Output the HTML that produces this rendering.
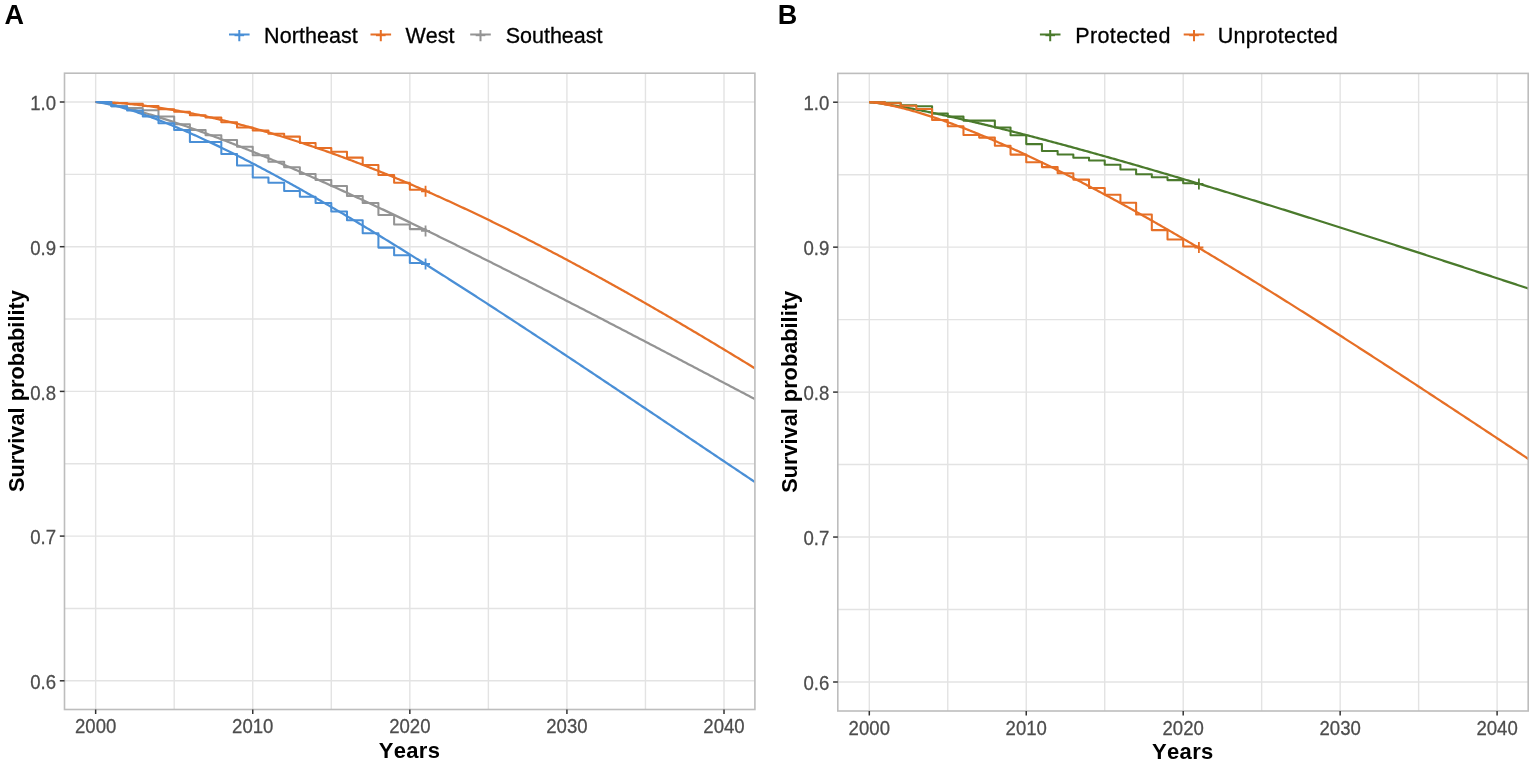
<!DOCTYPE html>
<html><head><meta charset="utf-8"><title>Survival curves</title>
<style>html,body{margin:0;padding:0;background:#fff;}svg{display:block;font-kerning:none;font-family:"Liberation Sans",Arial,sans-serif;}</style>
</head><body>
<svg width="1535" height="767" viewBox="0 0 1535 767">
<rect width="1535" height="767" fill="#fff"/>
<g stroke="#e3e3e3" stroke-width="1.4" fill="none">
<line x1="95.65" y1="73.2" x2="95.65" y2="709.5"/>
<line x1="174.19" y1="73.2" x2="174.19" y2="709.5"/>
<line x1="252.74" y1="73.2" x2="252.74" y2="709.5"/>
<line x1="331.28" y1="73.2" x2="331.28" y2="709.5"/>
<line x1="409.83" y1="73.2" x2="409.83" y2="709.5"/>
<line x1="488.38" y1="73.2" x2="488.38" y2="709.5"/>
<line x1="566.92" y1="73.2" x2="566.92" y2="709.5"/>
<line x1="645.46" y1="73.2" x2="645.46" y2="709.5"/>
<line x1="724.01" y1="73.2" x2="724.01" y2="709.5"/>
<line x1="64.5" y1="680.8" x2="754.9" y2="680.8"/>
<line x1="64.5" y1="608.45" x2="754.9" y2="608.45"/>
<line x1="64.5" y1="536.1" x2="754.9" y2="536.1"/>
<line x1="64.5" y1="463.75" x2="754.9" y2="463.75"/>
<line x1="64.5" y1="391.4" x2="754.9" y2="391.4"/>
<line x1="64.5" y1="319.05" x2="754.9" y2="319.05"/>
<line x1="64.5" y1="246.7" x2="754.9" y2="246.7"/>
<line x1="64.5" y1="174.35" x2="754.9" y2="174.35"/>
<line x1="64.5" y1="102" x2="754.9" y2="102"/>
</g>
<clipPath id="clipA"><rect x="64.5" y="73.2" width="690.4" height="636.3"/></clipPath>
<g clip-path="url(#clipA)" fill="none" stroke-linejoin="round">
<path d="M95.65,102 H105.7 V103.3 H111.36 V106.2 H127.07 V108 H142.78 V110.3 H158.49 V116.5 H174.19 V124.3 H189.9 V130 H205.61 V135.3 H221.32 V140 H237.03 V146.7 H252.74 V155.2 H268.45 V161.7 H284.16 V167.2 H299.87 V174 H315.58 V180 H331.28 V186 H346.99 V196 H362.7 V203 H378.41 V215 H394.12 V224.4 H409.83 V229.1 H425.54 V230.9" stroke="#949494" stroke-width="2.05"/>
<path d="M95.65,102 L97.22,102.12 L98.79,102.3 L100.36,102.51 L101.93,102.74 L103.5,102.99 L105.08,103.26 L106.65,103.54 L108.22,103.84 L109.79,104.14 L111.36,104.46 L112.93,104.79 L114.5,105.12 L116.07,105.47 L117.64,105.82 L119.21,106.19 L120.78,106.55 L122.36,106.93 L123.93,107.32 L125.5,107.71 L127.07,108.1 L128.64,108.5 L130.21,108.91 L131.78,109.33 L133.35,109.75 L134.92,110.17 L136.49,110.6 L138.06,111.04 L139.64,111.48 L141.21,111.93 L142.78,112.38 L144.35,112.83 L145.92,113.29 L147.49,113.75 L149.06,114.22 L150.63,114.69 L152.2,115.17 L153.77,115.65 L155.34,116.13 L156.92,116.62 L158.49,117.11 L160.06,117.61 L161.63,118.11 L163.2,118.61 L164.77,119.11 L166.34,119.62 L167.91,120.14 L169.48,120.65 L171.05,121.17 L172.62,121.69 L174.19,122.22 L175.77,122.75 L177.34,123.28 L178.91,123.82 L180.48,124.35 L182.05,124.89 L183.62,125.44 L185.19,125.98 L186.76,126.53 L188.33,127.09 L189.9,127.64 L191.47,128.2 L193.05,128.76 L194.62,129.32 L196.19,129.89 L197.76,130.45 L199.33,131.02 L200.9,131.6 L202.47,132.17 L204.04,132.75 L205.61,133.33 L207.18,133.91 L208.75,134.5 L210.33,135.08 L211.9,135.67 L213.47,136.26 L215.04,136.86 L216.61,137.45 L218.18,138.05 L219.75,138.65 L221.32,139.26 L222.89,139.86 L224.46,140.47 L226.03,141.07 L227.61,141.69 L229.18,142.3 L230.75,142.91 L232.32,143.53 L233.89,144.15 L235.46,144.77 L237.03,145.39 L238.6,146.02 L240.17,146.64 L241.74,147.27 L243.31,147.9 L244.89,148.53 L246.46,149.16 L248.03,149.8 L249.6,150.44 L251.17,151.08 L252.74,151.72 L254.31,152.36 L255.88,153 L257.45,153.65 L259.02,154.3 L260.59,154.94 L262.17,155.6 L263.74,156.25 L265.31,156.9 L266.88,157.56 L268.45,158.21 L270.02,158.87 L271.59,159.53 L273.16,160.19 L274.73,160.86 L276.3,161.52 L277.87,162.19 L279.45,162.85 L281.02,163.52 L282.59,164.19 L284.16,164.87 L285.73,165.54 L287.3,166.21 L288.87,166.89 L290.44,167.57 L292.01,168.25 L293.58,168.93 L295.15,169.61 L296.73,170.29 L298.3,170.98 L299.87,171.66 L301.44,172.35 L303.01,173.04 L304.58,173.73 L306.15,174.42 L307.72,175.11 L309.29,175.8 L310.86,176.5 L312.43,177.19 L314.01,177.89 L315.58,178.59 L317.15,179.29 L318.72,179.99 L320.29,180.69 L321.86,181.39 L323.43,182.1 L325,182.8 L326.57,183.51 L328.14,184.22 L329.71,184.93 L331.28,185.64 L332.86,186.35 L334.43,187.06 L336,187.77 L337.57,188.49 L339.14,189.2 L340.71,189.92 L342.28,190.64 L343.85,191.36 L345.42,192.08 L346.99,192.8 L348.56,193.52 L350.14,194.24 L351.71,194.96 L353.28,195.69 L354.85,196.41 L356.42,197.14 L357.99,197.87 L359.56,198.6 L361.13,199.33 L362.7,200.06 L364.27,200.79 L365.84,201.52 L367.42,202.25 L368.99,202.99 L370.56,203.72 L372.13,204.46 L373.7,205.2 L375.27,205.94 L376.84,206.67 L378.41,207.41 L379.98,208.15 L381.55,208.9 L383.12,209.64 L384.7,210.38 L386.27,211.13 L387.84,211.87 L389.41,212.62 L390.98,213.36 L392.55,214.11 L394.12,214.86 L395.69,215.61 L397.26,216.36 L398.83,217.11 L400.4,217.86 L401.98,218.61 L403.55,219.36 L405.12,220.12 L406.69,220.87 L408.26,221.63 L409.83,222.38 L411.4,223.14 L412.97,223.9 L414.54,224.66 L416.11,225.42 L417.68,226.18 L419.26,226.94 L420.83,227.7 L422.4,228.46 L423.97,229.22 L425.54,229.99 L427.11,230.75 L428.68,231.51 L430.25,232.28 L431.82,233.05 L433.39,233.81 L434.96,234.58 L436.54,235.35 L438.11,236.12 L439.68,236.89 L441.25,237.66 L442.82,238.43 L444.39,239.2 L445.96,239.97 L447.53,240.74 L449.1,241.52 L450.67,242.29 L452.24,243.06 L453.82,243.84 L455.39,244.61 L456.96,245.39 L458.53,246.17 L460.1,246.95 L461.67,247.72 L463.24,248.5 L464.81,249.28 L466.38,250.06 L467.95,250.84 L469.52,251.62 L471.1,252.4 L472.67,253.19 L474.24,253.97 L475.81,254.75 L477.38,255.53 L478.95,256.32 L480.52,257.1 L482.09,257.89 L483.66,258.67 L485.23,259.46 L486.8,260.25 L488.38,261.03 L489.95,261.82 L491.52,262.61 L493.09,263.4 L494.66,264.19 L496.23,264.98 L497.8,265.77 L499.37,266.56 L500.94,267.35 L502.51,268.14 L504.08,268.93 L505.65,269.73 L507.23,270.52 L508.8,271.31 L510.37,272.11 L511.94,272.9 L513.51,273.7 L515.08,274.49 L516.65,275.29 L518.22,276.08 L519.79,276.88 L521.36,277.68 L522.93,278.47 L524.51,279.27 L526.08,280.07 L527.65,280.87 L529.22,281.67 L530.79,282.47 L532.36,283.27 L533.93,284.07 L535.5,284.87 L537.07,285.67 L538.64,286.47 L540.21,287.27 L541.79,288.08 L543.36,288.88 L544.93,289.68 L546.5,290.48 L548.07,291.29 L549.64,292.09 L551.21,292.9 L552.78,293.7 L554.35,294.51 L555.92,295.31 L557.49,296.12 L559.07,296.92 L560.64,297.73 L562.21,298.54 L563.78,299.34 L565.35,300.15 L566.92,300.96 L568.49,301.77 L570.06,302.57 L571.63,303.38 L573.2,304.19 L574.77,305 L576.35,305.81 L577.92,306.62 L579.49,307.43 L581.06,308.24 L582.63,309.05 L584.2,309.86 L585.77,310.68 L587.34,311.49 L588.91,312.3 L590.48,313.11 L592.05,313.92 L593.63,314.74 L595.2,315.55 L596.77,316.36 L598.34,317.18 L599.91,317.99 L601.48,318.8 L603.05,319.62 L604.62,320.43 L606.19,321.25 L607.76,322.06 L609.33,322.88 L610.91,323.69 L612.48,324.51 L614.05,325.33 L615.62,326.14 L617.19,326.96 L618.76,327.77 L620.33,328.59 L621.9,329.41 L623.47,330.23 L625.04,331.04 L626.61,331.86 L628.19,332.68 L629.76,333.5 L631.33,334.32 L632.9,335.13 L634.47,335.95 L636.04,336.77 L637.61,337.59 L639.18,338.41 L640.75,339.23 L642.32,340.05 L643.89,340.87 L645.46,341.69 L647.04,342.51 L648.61,343.33 L650.18,344.15 L651.75,344.97 L653.32,345.79 L654.89,346.61 L656.46,347.44 L658.03,348.26 L659.6,349.08 L661.17,349.9 L662.74,350.72 L664.32,351.54 L665.89,352.37 L667.46,353.19 L669.03,354.01 L670.6,354.83 L672.17,355.66 L673.74,356.48 L675.31,357.3 L676.88,358.12 L678.45,358.95 L680.02,359.77 L681.6,360.6 L683.17,361.42 L684.74,362.24 L686.31,363.07 L687.88,363.89 L689.45,364.71 L691.02,365.54 L692.59,366.36 L694.16,367.19 L695.73,368.01 L697.3,368.84 L698.88,369.66 L700.45,370.49 L702.02,371.31 L703.59,372.14 L705.16,372.96 L706.73,373.79 L708.3,374.61 L709.87,375.44 L711.44,376.26 L713.01,377.09 L714.58,377.91 L716.16,378.74 L717.73,379.56 L719.3,380.39 L720.87,381.22 L722.44,382.04 L724.01,382.87 L725.58,383.69 L727.15,384.52 L728.72,385.35 L730.29,386.17 L731.86,387 L733.44,387.82 L735.01,388.65 L736.58,389.48 L738.15,390.3 L739.72,391.13 L741.29,391.96 L742.86,392.78 L744.43,393.61 L746,394.44 L747.57,395.26 L749.14,396.09 L750.72,396.92 L752.29,397.74 L753.86,398.57 L755.43,399.4 L757,400.22 L758.57,401.05 L760.14,401.88 L761.71,402.7 L763.28,403.53 L764.85,404.36 L766.42,405.18 L768,406.01 L769.57,406.84 L771.14,407.67" stroke="#949494" stroke-width="2.25"/>
<path d="M421.04,230.9 H430.04 M425.54,225.4 V236.4" stroke="#949494" stroke-width="1.8"/>
<path d="M95.65,102 H111.36 V103 H127.07 V103.8 H142.78 V106 H158.49 V109.3 H174.19 V111.8 H189.9 V115.3 H205.61 V117.5 H221.32 V122.3 H237.03 V127.5 H252.74 V130.5 H268.45 V133.7 H284.16 V136.6 H299.87 V143 H315.58 V147.9 H331.28 V151.8 H346.99 V157.6 H362.7 V165 H378.41 V175 H394.12 V182.7 H409.83 V189.7 H425.54 V191.3" stroke="#e66f26" stroke-width="2.05"/>
<path d="M95.65,102 L97.22,102.01 L98.79,102.04 L100.36,102.07 L101.93,102.12 L103.5,102.17 L105.08,102.23 L106.65,102.3 L108.22,102.37 L109.79,102.45 L111.36,102.54 L112.93,102.64 L114.5,102.74 L116.07,102.84 L117.64,102.95 L119.21,103.07 L120.78,103.19 L122.36,103.32 L123.93,103.46 L125.5,103.6 L127.07,103.74 L128.64,103.89 L130.21,104.04 L131.78,104.2 L133.35,104.36 L134.92,104.53 L136.49,104.71 L138.06,104.88 L139.64,105.07 L141.21,105.25 L142.78,105.44 L144.35,105.64 L145.92,105.84 L147.49,106.04 L149.06,106.25 L150.63,106.46 L152.2,106.68 L153.77,106.9 L155.34,107.13 L156.92,107.35 L158.49,107.59 L160.06,107.83 L161.63,108.07 L163.2,108.31 L164.77,108.56 L166.34,108.81 L167.91,109.07 L169.48,109.33 L171.05,109.59 L172.62,109.86 L174.19,110.13 L175.77,110.41 L177.34,110.69 L178.91,110.97 L180.48,111.26 L182.05,111.55 L183.62,111.84 L185.19,112.14 L186.76,112.44 L188.33,112.74 L189.9,113.05 L191.47,113.36 L193.05,113.67 L194.62,113.99 L196.19,114.31 L197.76,114.64 L199.33,114.96 L200.9,115.3 L202.47,115.63 L204.04,115.97 L205.61,116.31 L207.18,116.65 L208.75,117 L210.33,117.35 L211.9,117.71 L213.47,118.06 L215.04,118.42 L216.61,118.79 L218.18,119.16 L219.75,119.53 L221.32,119.9 L222.89,120.27 L224.46,120.65 L226.03,121.04 L227.61,121.42 L229.18,121.81 L230.75,122.2 L232.32,122.6 L233.89,122.99 L235.46,123.4 L237.03,123.8 L238.6,124.21 L240.17,124.62 L241.74,125.03 L243.31,125.44 L244.89,125.86 L246.46,126.28 L248.03,126.71 L249.6,127.13 L251.17,127.56 L252.74,128 L254.31,128.43 L255.88,128.87 L257.45,129.31 L259.02,129.76 L260.59,130.2 L262.17,130.65 L263.74,131.11 L265.31,131.56 L266.88,132.02 L268.45,132.48 L270.02,132.94 L271.59,133.41 L273.16,133.88 L274.73,134.35 L276.3,134.82 L277.87,135.3 L279.45,135.78 L281.02,136.26 L282.59,136.75 L284.16,137.24 L285.73,137.73 L287.3,138.22 L288.87,138.71 L290.44,139.21 L292.01,139.71 L293.58,140.22 L295.15,140.72 L296.73,141.23 L298.3,141.74 L299.87,142.25 L301.44,142.77 L303.01,143.29 L304.58,143.81 L306.15,144.33 L307.72,144.86 L309.29,145.39 L310.86,145.92 L312.43,146.45 L314.01,146.99 L315.58,147.53 L317.15,148.07 L318.72,148.61 L320.29,149.15 L321.86,149.7 L323.43,150.25 L325,150.81 L326.57,151.36 L328.14,151.92 L329.71,152.48 L331.28,153.04 L332.86,153.6 L334.43,154.17 L336,154.74 L337.57,155.31 L339.14,155.89 L340.71,156.46 L342.28,157.04 L343.85,157.62 L345.42,158.2 L346.99,158.79 L348.56,159.38 L350.14,159.97 L351.71,160.56 L353.28,161.15 L354.85,161.75 L356.42,162.35 L357.99,162.95 L359.56,163.55 L361.13,164.16 L362.7,164.76 L364.27,165.37 L365.84,165.99 L367.42,166.6 L368.99,167.22 L370.56,167.84 L372.13,168.46 L373.7,169.08 L375.27,169.7 L376.84,170.33 L378.41,170.96 L379.98,171.59 L381.55,172.22 L383.12,172.86 L384.7,173.5 L386.27,174.14 L387.84,174.78 L389.41,175.42 L390.98,176.07 L392.55,176.72 L394.12,177.36 L395.69,178.02 L397.26,178.67 L398.83,179.33 L400.4,179.98 L401.98,180.64 L403.55,181.31 L405.12,181.97 L406.69,182.64 L408.26,183.3 L409.83,183.97 L411.4,184.65 L412.97,185.32 L414.54,186 L416.11,186.67 L417.68,187.35 L419.26,188.04 L420.83,188.72 L422.4,189.4 L423.97,190.09 L425.54,190.78 L427.11,191.47 L428.68,192.17 L430.25,192.86 L431.82,193.56 L433.39,194.26 L434.96,194.96 L436.54,195.66 L438.11,196.36 L439.68,197.07 L441.25,197.78 L442.82,198.49 L444.39,199.2 L445.96,199.91 L447.53,200.63 L449.1,201.35 L450.67,202.07 L452.24,202.79 L453.82,203.51 L455.39,204.23 L456.96,204.96 L458.53,205.69 L460.1,206.42 L461.67,207.15 L463.24,207.88 L464.81,208.62 L466.38,209.35 L467.95,210.09 L469.52,210.83 L471.1,211.57 L472.67,212.32 L474.24,213.06 L475.81,213.81 L477.38,214.56 L478.95,215.31 L480.52,216.06 L482.09,216.81 L483.66,217.57 L485.23,218.33 L486.8,219.09 L488.38,219.85 L489.95,220.61 L491.52,221.37 L493.09,222.14 L494.66,222.9 L496.23,223.67 L497.8,224.44 L499.37,225.22 L500.94,225.99 L502.51,226.76 L504.08,227.54 L505.65,228.32 L507.23,229.1 L508.8,229.88 L510.37,230.66 L511.94,231.45 L513.51,232.23 L515.08,233.02 L516.65,233.81 L518.22,234.6 L519.79,235.39 L521.36,236.19 L522.93,236.98 L524.51,237.78 L526.08,238.58 L527.65,239.38 L529.22,240.18 L530.79,240.98 L532.36,241.79 L533.93,242.59 L535.5,243.4 L537.07,244.21 L538.64,245.02 L540.21,245.83 L541.79,246.65 L543.36,247.46 L544.93,248.28 L546.5,249.1 L548.07,249.91 L549.64,250.74 L551.21,251.56 L552.78,252.38 L554.35,253.21 L555.92,254.03 L557.49,254.86 L559.07,255.69 L560.64,256.52 L562.21,257.35 L563.78,258.18 L565.35,259.02 L566.92,259.86 L568.49,260.69 L570.06,261.53 L571.63,262.37 L573.2,263.21 L574.77,264.06 L576.35,264.9 L577.92,265.75 L579.49,266.59 L581.06,267.44 L582.63,268.29 L584.2,269.14 L585.77,269.99 L587.34,270.85 L588.91,271.7 L590.48,272.56 L592.05,273.41 L593.63,274.27 L595.2,275.13 L596.77,275.99 L598.34,276.86 L599.91,277.72 L601.48,278.58 L603.05,279.45 L604.62,280.32 L606.19,281.19 L607.76,282.06 L609.33,282.93 L610.91,283.8 L612.48,284.67 L614.05,285.55 L615.62,286.42 L617.19,287.3 L618.76,288.18 L620.33,289.06 L621.9,289.94 L623.47,290.82 L625.04,291.71 L626.61,292.59 L628.19,293.48 L629.76,294.36 L631.33,295.25 L632.9,296.14 L634.47,297.03 L636.04,297.92 L637.61,298.81 L639.18,299.71 L640.75,300.6 L642.32,301.5 L643.89,302.39 L645.46,303.29 L647.04,304.19 L648.61,305.09 L650.18,305.99 L651.75,306.9 L653.32,307.8 L654.89,308.7 L656.46,309.61 L658.03,310.52 L659.6,311.42 L661.17,312.33 L662.74,313.24 L664.32,314.15 L665.89,315.07 L667.46,315.98 L669.03,316.89 L670.6,317.81 L672.17,318.73 L673.74,319.64 L675.31,320.56 L676.88,321.48 L678.45,322.4 L680.02,323.32 L681.6,324.24 L683.17,325.17 L684.74,326.09 L686.31,327.02 L687.88,327.94 L689.45,328.87 L691.02,329.8 L692.59,330.73 L694.16,331.66 L695.73,332.59 L697.3,333.52 L698.88,334.46 L700.45,335.39 L702.02,336.33 L703.59,337.26 L705.16,338.2 L706.73,339.14 L708.3,340.07 L709.87,341.01 L711.44,341.96 L713.01,342.9 L714.58,343.84 L716.16,344.78 L717.73,345.73 L719.3,346.67 L720.87,347.62 L722.44,348.56 L724.01,349.51 L725.58,350.46 L727.15,351.41 L728.72,352.36 L730.29,353.31 L731.86,354.26 L733.44,355.22 L735.01,356.17 L736.58,357.13 L738.15,358.08 L739.72,359.04 L741.29,360 L742.86,360.95 L744.43,361.91 L746,362.87 L747.57,363.83 L749.14,364.79 L750.72,365.76 L752.29,366.72 L753.86,367.68 L755.43,368.65 L757,369.61 L758.57,370.58 L760.14,371.54 L761.71,372.51 L763.28,373.48 L764.85,374.45 L766.42,375.42 L768,376.39 L769.57,377.36 L771.14,378.33" stroke="#e66f26" stroke-width="2.25"/>
<path d="M421.04,191.3 H430.04 M425.54,185.8 V196.8" stroke="#e66f26" stroke-width="1.8"/>
<path d="M95.65,102 H111.36 V106.3 H127.07 V110.5 H142.78 V116.5 H158.49 V123.3 H174.19 V130 H189.9 V142 H221.32 V154 H237.03 V165.5 H252.74 V177.4 H268.45 V182.7 H284.16 V191 H299.87 V196.7 H315.58 V203 H331.28 V211.5 H346.99 V220.2 H362.7 V233.3 H378.41 V247.6 H394.12 V255.2 H409.83 V263 H425.54 V264" stroke="#4a8fd6" stroke-width="2.05"/>
<path d="M95.65,102 L97.22,102.12 L98.79,102.31 L100.36,102.54 L101.93,102.79 L103.5,103.07 L105.08,103.37 L106.65,103.69 L108.22,104.03 L109.79,104.38 L111.36,104.75 L112.93,105.13 L114.5,105.52 L116.07,105.92 L117.64,106.34 L119.21,106.76 L120.78,107.2 L122.36,107.64 L123.93,108.1 L125.5,108.56 L127.07,109.03 L128.64,109.51 L130.21,110 L131.78,110.5 L133.35,111 L134.92,111.52 L136.49,112.04 L138.06,112.56 L139.64,113.09 L141.21,113.63 L142.78,114.18 L144.35,114.73 L145.92,115.29 L147.49,115.86 L149.06,116.43 L150.63,117 L152.2,117.59 L153.77,118.17 L155.34,118.77 L156.92,119.37 L158.49,119.97 L160.06,120.58 L161.63,121.19 L163.2,121.81 L164.77,122.44 L166.34,123.07 L167.91,123.7 L169.48,124.34 L171.05,124.98 L172.62,125.63 L174.19,126.28 L175.77,126.94 L177.34,127.6 L178.91,128.26 L180.48,128.93 L182.05,129.61 L183.62,130.28 L185.19,130.96 L186.76,131.65 L188.33,132.34 L189.9,133.03 L191.47,133.73 L193.05,134.43 L194.62,135.13 L196.19,135.84 L197.76,136.55 L199.33,137.27 L200.9,137.99 L202.47,138.71 L204.04,139.44 L205.61,140.17 L207.18,140.9 L208.75,141.64 L210.33,142.37 L211.9,143.12 L213.47,143.86 L215.04,144.61 L216.61,145.36 L218.18,146.12 L219.75,146.88 L221.32,147.64 L222.89,148.4 L224.46,149.17 L226.03,149.94 L227.61,150.71 L229.18,151.49 L230.75,152.27 L232.32,153.05 L233.89,153.83 L235.46,154.62 L237.03,155.41 L238.6,156.2 L240.17,157 L241.74,157.8 L243.31,158.6 L244.89,159.4 L246.46,160.21 L248.03,161.01 L249.6,161.83 L251.17,162.64 L252.74,163.45 L254.31,164.27 L255.88,165.09 L257.45,165.92 L259.02,166.74 L260.59,167.57 L262.17,168.4 L263.74,169.23 L265.31,170.07 L266.88,170.9 L268.45,171.74 L270.02,172.58 L271.59,173.43 L273.16,174.27 L274.73,175.12 L276.3,175.97 L277.87,176.82 L279.45,177.68 L281.02,178.54 L282.59,179.39 L284.16,180.25 L285.73,181.12 L287.3,181.98 L288.87,182.85 L290.44,183.72 L292.01,184.59 L293.58,185.46 L295.15,186.34 L296.73,187.21 L298.3,188.09 L299.87,188.97 L301.44,189.85 L303.01,190.74 L304.58,191.62 L306.15,192.51 L307.72,193.4 L309.29,194.29 L310.86,195.18 L312.43,196.08 L314.01,196.97 L315.58,197.87 L317.15,198.77 L318.72,199.67 L320.29,200.58 L321.86,201.48 L323.43,202.39 L325,203.29 L326.57,204.2 L328.14,205.12 L329.71,206.03 L331.28,206.94 L332.86,207.86 L334.43,208.78 L336,209.7 L337.57,210.62 L339.14,211.54 L340.71,212.46 L342.28,213.39 L343.85,214.31 L345.42,215.24 L346.99,216.17 L348.56,217.1 L350.14,218.04 L351.71,218.97 L353.28,219.9 L354.85,220.84 L356.42,221.78 L357.99,222.72 L359.56,223.66 L361.13,224.6 L362.7,225.54 L364.27,226.49 L365.84,227.43 L367.42,228.38 L368.99,229.33 L370.56,230.28 L372.13,231.23 L373.7,232.18 L375.27,233.14 L376.84,234.09 L378.41,235.05 L379.98,236.01 L381.55,236.96 L383.12,237.92 L384.7,238.88 L386.27,239.85 L387.84,240.81 L389.41,241.77 L390.98,242.74 L392.55,243.71 L394.12,244.67 L395.69,245.64 L397.26,246.61 L398.83,247.58 L400.4,248.56 L401.98,249.53 L403.55,250.5 L405.12,251.48 L406.69,252.45 L408.26,253.43 L409.83,254.41 L411.4,255.39 L412.97,256.37 L414.54,257.35 L416.11,258.33 L417.68,259.32 L419.26,260.3 L420.83,261.29 L422.4,262.27 L423.97,263.26 L425.54,264.25 L427.11,265.24 L428.68,266.23 L430.25,267.22 L431.82,268.21 L433.39,269.2 L434.96,270.2 L436.54,271.19 L438.11,272.19 L439.68,273.18 L441.25,274.18 L442.82,275.18 L444.39,276.17 L445.96,277.17 L447.53,278.17 L449.1,279.18 L450.67,280.18 L452.24,281.18 L453.82,282.18 L455.39,283.19 L456.96,284.19 L458.53,285.2 L460.1,286.21 L461.67,287.21 L463.24,288.22 L464.81,289.23 L466.38,290.24 L467.95,291.25 L469.52,292.26 L471.1,293.27 L472.67,294.29 L474.24,295.3 L475.81,296.31 L477.38,297.33 L478.95,298.34 L480.52,299.36 L482.09,300.38 L483.66,301.39 L485.23,302.41 L486.8,303.43 L488.38,304.45 L489.95,305.47 L491.52,306.49 L493.09,307.51 L494.66,308.53 L496.23,309.55 L497.8,310.58 L499.37,311.6 L500.94,312.62 L502.51,313.65 L504.08,314.67 L505.65,315.7 L507.23,316.72 L508.8,317.75 L510.37,318.78 L511.94,319.81 L513.51,320.83 L515.08,321.86 L516.65,322.89 L518.22,323.92 L519.79,324.95 L521.36,325.98 L522.93,327.02 L524.51,328.05 L526.08,329.08 L527.65,330.11 L529.22,331.15 L530.79,332.18 L532.36,333.21 L533.93,334.25 L535.5,335.28 L537.07,336.32 L538.64,337.36 L540.21,338.39 L541.79,339.43 L543.36,340.47 L544.93,341.51 L546.5,342.54 L548.07,343.58 L549.64,344.62 L551.21,345.66 L552.78,346.7 L554.35,347.74 L555.92,348.78 L557.49,349.82 L559.07,350.86 L560.64,351.9 L562.21,352.95 L563.78,353.99 L565.35,355.03 L566.92,356.07 L568.49,357.12 L570.06,358.16 L571.63,359.21 L573.2,360.25 L574.77,361.29 L576.35,362.34 L577.92,363.38 L579.49,364.43 L581.06,365.48 L582.63,366.52 L584.2,367.57 L585.77,368.62 L587.34,369.66 L588.91,370.71 L590.48,371.76 L592.05,372.81 L593.63,373.85 L595.2,374.9 L596.77,375.95 L598.34,377 L599.91,378.05 L601.48,379.1 L603.05,380.15 L604.62,381.2 L606.19,382.25 L607.76,383.3 L609.33,384.35 L610.91,385.4 L612.48,386.45 L614.05,387.5 L615.62,388.55 L617.19,389.6 L618.76,390.65 L620.33,391.7 L621.9,392.76 L623.47,393.81 L625.04,394.86 L626.61,395.91 L628.19,396.97 L629.76,398.02 L631.33,399.07 L632.9,400.12 L634.47,401.18 L636.04,402.23 L637.61,403.28 L639.18,404.34 L640.75,405.39 L642.32,406.44 L643.89,407.5 L645.46,408.55 L647.04,409.61 L648.61,410.66 L650.18,411.71 L651.75,412.77 L653.32,413.82 L654.89,414.88 L656.46,415.93 L658.03,416.99 L659.6,418.04 L661.17,419.1 L662.74,420.15 L664.32,421.21 L665.89,422.26 L667.46,423.32 L669.03,424.37 L670.6,425.43 L672.17,426.48 L673.74,427.54 L675.31,428.59 L676.88,429.65 L678.45,430.7 L680.02,431.76 L681.6,432.81 L683.17,433.87 L684.74,434.93 L686.31,435.98 L687.88,437.04 L689.45,438.09 L691.02,439.15 L692.59,440.2 L694.16,441.26 L695.73,442.31 L697.3,443.37 L698.88,444.42 L700.45,445.48 L702.02,446.53 L703.59,447.59 L705.16,448.65 L706.73,449.7 L708.3,450.76 L709.87,451.81 L711.44,452.87 L713.01,453.92 L714.58,454.98 L716.16,456.03 L717.73,457.09 L719.3,458.14 L720.87,459.2 L722.44,460.25 L724.01,461.3 L725.58,462.36 L727.15,463.41 L728.72,464.47 L730.29,465.52 L731.86,466.58 L733.44,467.63 L735.01,468.68 L736.58,469.74 L738.15,470.79 L739.72,471.85 L741.29,472.9 L742.86,473.95 L744.43,475.01 L746,476.06 L747.57,477.11 L749.14,478.17 L750.72,479.22 L752.29,480.27 L753.86,481.32 L755.43,482.38 L757,483.43 L758.57,484.48 L760.14,485.53 L761.71,486.59 L763.28,487.64 L764.85,488.69 L766.42,489.74 L768,490.79 L769.57,491.84 L771.14,492.89" stroke="#4a8fd6" stroke-width="2.25"/>
<path d="M421.04,264 H430.04 M425.54,258.5 V269.5" stroke="#4a8fd6" stroke-width="1.8"/>
</g>
<rect x="64.5" y="73.2" width="690.4" height="636.3" fill="none" stroke="#bdbdbd" stroke-width="1.6"/>
<g stroke="#333333" stroke-width="1.5">
<line x1="95.65" y1="709.5" x2="95.65" y2="714"/>
<line x1="252.74" y1="709.5" x2="252.74" y2="714"/>
<line x1="409.83" y1="709.5" x2="409.83" y2="714"/>
<line x1="566.92" y1="709.5" x2="566.92" y2="714"/>
<line x1="724.01" y1="709.5" x2="724.01" y2="714"/>
<line x1="59.8" y1="680.8" x2="64.5" y2="680.8"/>
<line x1="59.8" y1="536.1" x2="64.5" y2="536.1"/>
<line x1="59.8" y1="391.4" x2="64.5" y2="391.4"/>
<line x1="59.8" y1="246.7" x2="64.5" y2="246.7"/>
<line x1="59.8" y1="102" x2="64.5" y2="102"/>
</g>
<g fill="#4d4d4d" stroke="#4d4d4d" stroke-width="0.25" font-size="18.6" font-family="Liberation Sans, Arial, sans-serif">
<text transform="translate(95.65,733.45) scale(1,1.065)" text-anchor="middle">2000</text>
<text transform="translate(252.74,733.45) scale(1,1.065)" text-anchor="middle">2010</text>
<text transform="translate(409.83,733.45) scale(1,1.065)" text-anchor="middle">2020</text>
<text transform="translate(566.92,733.45) scale(1,1.065)" text-anchor="middle">2030</text>
<text transform="translate(724.01,733.45) scale(1,1.065)" text-anchor="middle">2040</text>
<text transform="translate(56,688.95) scale(1,1.065)" text-anchor="end">0.6</text>
<text transform="translate(56,544.25) scale(1,1.065)" text-anchor="end">0.7</text>
<text transform="translate(56,399.55) scale(1,1.065)" text-anchor="end">0.8</text>
<text transform="translate(56,254.85) scale(1,1.065)" text-anchor="end">0.9</text>
<text transform="translate(56,110.15) scale(1,1.065)" text-anchor="end">1.0</text>
</g>
<text x="409.5" y="757.5" text-anchor="middle" font-size="22" letter-spacing="0.35" font-weight="bold" fill="#000">Years</text>
<text transform="translate(23.7,391.1) rotate(-90)" text-anchor="middle" font-size="21.75" font-weight="bold" fill="#000">Survival probability</text>
<text x="4.5" y="23.9" font-size="27" font-weight="bold" fill="#000">A</text>
<path d="M229,34.6 H249.6 M239.3,30 V41.2" stroke="#4a8fd6" stroke-width="2" fill="none"/>
<path d="M234.5,35.3 H244.1" stroke="#4a8fd6" stroke-width="1.8" fill="none"/>
<text x="264.1" y="43.4" font-size="21.5" letter-spacing="0.05" fill="#000" stroke="#000" stroke-width="0.3">Northeast</text>
<path d="M370.5,34.6 H391.1 M380.8,30 V41.2" stroke="#e66f26" stroke-width="2" fill="none"/>
<path d="M376,35.3 H385.6" stroke="#e66f26" stroke-width="1.8" fill="none"/>
<text x="405.5" y="43.4" font-size="21.5" letter-spacing="0" fill="#000" stroke="#000" stroke-width="0.3">West</text>
<path d="M470.2,34.6 H490.8 M480.5,30 V41.2" stroke="#949494" stroke-width="2" fill="none"/>
<path d="M475.7,35.3 H485.3" stroke="#949494" stroke-width="1.8" fill="none"/>
<text x="505.7" y="43.4" font-size="21.5" letter-spacing="0" fill="#000" stroke="#000" stroke-width="0.3">Southeast</text>
<g stroke="#e3e3e3" stroke-width="1.4" fill="none">
<line x1="869.3" y1="73.4" x2="869.3" y2="711.0"/>
<line x1="947.77" y1="73.4" x2="947.77" y2="711.0"/>
<line x1="1026.25" y1="73.4" x2="1026.25" y2="711.0"/>
<line x1="1104.72" y1="73.4" x2="1104.72" y2="711.0"/>
<line x1="1183.2" y1="73.4" x2="1183.2" y2="711.0"/>
<line x1="1261.67" y1="73.4" x2="1261.67" y2="711.0"/>
<line x1="1340.15" y1="73.4" x2="1340.15" y2="711.0"/>
<line x1="1418.62" y1="73.4" x2="1418.62" y2="711.0"/>
<line x1="1497.1" y1="73.4" x2="1497.1" y2="711.0"/>
<line x1="837.8" y1="682" x2="1528.2" y2="682"/>
<line x1="837.8" y1="609.52" x2="1528.2" y2="609.52"/>
<line x1="837.8" y1="537.05" x2="1528.2" y2="537.05"/>
<line x1="837.8" y1="464.57" x2="1528.2" y2="464.57"/>
<line x1="837.8" y1="392.1" x2="1528.2" y2="392.1"/>
<line x1="837.8" y1="319.63" x2="1528.2" y2="319.63"/>
<line x1="837.8" y1="247.15" x2="1528.2" y2="247.15"/>
<line x1="837.8" y1="174.68" x2="1528.2" y2="174.68"/>
<line x1="837.8" y1="102.2" x2="1528.2" y2="102.2"/>
</g>
<clipPath id="clipB"><rect x="837.8" y="73.4" width="690.4" height="637.6"/></clipPath>
<g clip-path="url(#clipB)" fill="none" stroke-linejoin="round">
<path d="M869.3,102.2 H885 V102.8 H900.69 V105.2 H916.38 V106.2 H932.08 V113.4 H947.77 V116.6 H963.47 V120.6 H994.86 V127.4 H1010.55 V135.3 H1026.25 V144.1 H1041.94 V151 H1057.64 V154.4 H1073.34 V157.8 H1089.03 V160.5 H1104.72 V164.7 H1120.42 V169.4 H1136.12 V174.3 H1151.81 V177.2 H1167.5 V180.1 H1183.2 V183.2 H1198.89 V184" stroke="#4a7a2c" stroke-width="2.05"/>
<path d="M869.3,102.2 L870.87,102.31 L872.44,102.45 L874.01,102.62 L875.58,102.8 L877.15,102.99 L878.72,103.19 L880.29,103.4 L881.86,103.62 L883.43,103.84 L885,104.07 L886.56,104.31 L888.13,104.55 L889.7,104.79 L891.27,105.05 L892.84,105.3 L894.41,105.56 L895.98,105.83 L897.55,106.09 L899.12,106.37 L900.69,106.64 L902.26,106.92 L903.83,107.2 L905.4,107.49 L906.97,107.77 L908.54,108.07 L910.11,108.36 L911.68,108.66 L913.25,108.96 L914.82,109.26 L916.38,109.56 L917.95,109.87 L919.52,110.18 L921.09,110.49 L922.66,110.8 L924.23,111.12 L925.8,111.44 L927.37,111.76 L928.94,112.08 L930.51,112.41 L932.08,112.73 L933.65,113.06 L935.22,113.39 L936.79,113.73 L938.36,114.06 L939.93,114.4 L941.5,114.74 L943.07,115.08 L944.64,115.42 L946.21,115.76 L947.77,116.1 L949.34,116.45 L950.91,116.8 L952.48,117.15 L954.05,117.5 L955.62,117.85 L957.19,118.21 L958.76,118.56 L960.33,118.92 L961.9,119.28 L963.47,119.64 L965.04,120 L966.61,120.36 L968.18,120.73 L969.75,121.09 L971.32,121.46 L972.89,121.83 L974.46,122.2 L976.03,122.57 L977.6,122.94 L979.16,123.32 L980.73,123.69 L982.3,124.07 L983.87,124.44 L985.44,124.82 L987.01,125.2 L988.58,125.58 L990.15,125.96 L991.72,126.35 L993.29,126.73 L994.86,127.12 L996.43,127.5 L998,127.89 L999.57,128.28 L1001.14,128.67 L1002.71,129.06 L1004.28,129.45 L1005.85,129.84 L1007.42,130.24 L1008.99,130.63 L1010.55,131.03 L1012.12,131.42 L1013.69,131.82 L1015.26,132.22 L1016.83,132.62 L1018.4,133.02 L1019.97,133.42 L1021.54,133.82 L1023.11,134.23 L1024.68,134.63 L1026.25,135.04 L1027.82,135.44 L1029.39,135.85 L1030.96,136.26 L1032.53,136.67 L1034.1,137.07 L1035.67,137.49 L1037.24,137.9 L1038.81,138.31 L1040.38,138.72 L1041.94,139.13 L1043.51,139.55 L1045.08,139.96 L1046.65,140.38 L1048.22,140.8 L1049.79,141.22 L1051.36,141.63 L1052.93,142.05 L1054.5,142.47 L1056.07,142.89 L1057.64,143.32 L1059.21,143.74 L1060.78,144.16 L1062.35,144.58 L1063.92,145.01 L1065.49,145.43 L1067.06,145.86 L1068.63,146.29 L1070.2,146.71 L1071.77,147.14 L1073.34,147.57 L1074.9,148 L1076.47,148.43 L1078.04,148.86 L1079.61,149.29 L1081.18,149.72 L1082.75,150.16 L1084.32,150.59 L1085.89,151.03 L1087.46,151.46 L1089.03,151.9 L1090.6,152.33 L1092.17,152.77 L1093.74,153.21 L1095.31,153.64 L1096.88,154.08 L1098.45,154.52 L1100.02,154.96 L1101.59,155.4 L1103.16,155.84 L1104.72,156.28 L1106.29,156.73 L1107.86,157.17 L1109.43,157.61 L1111,158.06 L1112.57,158.5 L1114.14,158.95 L1115.71,159.39 L1117.28,159.84 L1118.85,160.28 L1120.42,160.73 L1121.99,161.18 L1123.56,161.63 L1125.13,162.08 L1126.7,162.53 L1128.27,162.98 L1129.84,163.43 L1131.41,163.88 L1132.98,164.33 L1134.55,164.78 L1136.12,165.24 L1137.68,165.69 L1139.25,166.14 L1140.82,166.6 L1142.39,167.05 L1143.96,167.51 L1145.53,167.96 L1147.1,168.42 L1148.67,168.88 L1150.24,169.33 L1151.81,169.79 L1153.38,170.25 L1154.95,170.71 L1156.52,171.17 L1158.09,171.63 L1159.66,172.09 L1161.23,172.55 L1162.8,173.01 L1164.37,173.47 L1165.94,173.93 L1167.5,174.39 L1169.07,174.86 L1170.64,175.32 L1172.21,175.78 L1173.78,176.25 L1175.35,176.71 L1176.92,177.18 L1178.49,177.64 L1180.06,178.11 L1181.63,178.58 L1183.2,179.04 L1184.77,179.51 L1186.34,179.98 L1187.91,180.45 L1189.48,180.91 L1191.05,181.38 L1192.62,181.85 L1194.19,182.32 L1195.76,182.79 L1197.33,183.26 L1198.89,183.73 L1200.46,184.21 L1202.03,184.68 L1203.6,185.15 L1205.17,185.62 L1206.74,186.09 L1208.31,186.57 L1209.88,187.04 L1211.45,187.52 L1213.02,187.99 L1214.59,188.46 L1216.16,188.94 L1217.73,189.42 L1219.3,189.89 L1220.87,190.37 L1222.44,190.84 L1224.01,191.32 L1225.58,191.8 L1227.15,192.28 L1228.72,192.75 L1230.28,193.23 L1231.85,193.71 L1233.42,194.19 L1234.99,194.67 L1236.56,195.15 L1238.13,195.63 L1239.7,196.11 L1241.27,196.59 L1242.84,197.07 L1244.41,197.55 L1245.98,198.04 L1247.55,198.52 L1249.12,199 L1250.69,199.48 L1252.26,199.97 L1253.83,200.45 L1255.4,200.93 L1256.97,201.42 L1258.54,201.9 L1260.11,202.39 L1261.67,202.87 L1263.24,203.36 L1264.81,203.84 L1266.38,204.33 L1267.95,204.81 L1269.52,205.3 L1271.09,205.79 L1272.66,206.27 L1274.23,206.76 L1275.8,207.25 L1277.37,207.74 L1278.94,208.23 L1280.51,208.71 L1282.08,209.2 L1283.65,209.69 L1285.22,210.18 L1286.79,210.67 L1288.36,211.16 L1289.93,211.65 L1291.5,212.14 L1293.07,212.63 L1294.63,213.12 L1296.2,213.62 L1297.77,214.11 L1299.34,214.6 L1300.91,215.09 L1302.48,215.58 L1304.05,216.08 L1305.62,216.57 L1307.19,217.06 L1308.76,217.56 L1310.33,218.05 L1311.9,218.54 L1313.47,219.04 L1315.04,219.53 L1316.61,220.03 L1318.18,220.52 L1319.75,221.02 L1321.32,221.51 L1322.89,222.01 L1324.45,222.51 L1326.02,223 L1327.59,223.5 L1329.16,224 L1330.73,224.49 L1332.3,224.99 L1333.87,225.49 L1335.44,225.98 L1337.01,226.48 L1338.58,226.98 L1340.15,227.48 L1341.72,227.98 L1343.29,228.48 L1344.86,228.98 L1346.43,229.47 L1348,229.97 L1349.57,230.47 L1351.14,230.97 L1352.71,231.47 L1354.28,231.97 L1355.85,232.47 L1357.41,232.98 L1358.98,233.48 L1360.55,233.98 L1362.12,234.48 L1363.69,234.98 L1365.26,235.48 L1366.83,235.98 L1368.4,236.49 L1369.97,236.99 L1371.54,237.49 L1373.11,237.99 L1374.68,238.5 L1376.25,239 L1377.82,239.5 L1379.39,240.01 L1380.96,240.51 L1382.53,241.02 L1384.1,241.52 L1385.67,242.02 L1387.24,242.53 L1388.8,243.03 L1390.37,243.54 L1391.94,244.04 L1393.51,244.55 L1395.08,245.05 L1396.65,245.56 L1398.22,246.07 L1399.79,246.57 L1401.36,247.08 L1402.93,247.58 L1404.5,248.09 L1406.07,248.6 L1407.64,249.1 L1409.21,249.61 L1410.78,250.12 L1412.35,250.63 L1413.92,251.13 L1415.49,251.64 L1417.06,252.15 L1418.62,252.66 L1420.19,253.16 L1421.76,253.67 L1423.33,254.18 L1424.9,254.69 L1426.47,255.2 L1428.04,255.71 L1429.61,256.22 L1431.18,256.73 L1432.75,257.24 L1434.32,257.75 L1435.89,258.26 L1437.46,258.77 L1439.03,259.28 L1440.6,259.79 L1442.17,260.3 L1443.74,260.81 L1445.31,261.32 L1446.88,261.83 L1448.45,262.34 L1450.01,262.85 L1451.58,263.36 L1453.15,263.87 L1454.72,264.38 L1456.29,264.9 L1457.86,265.41 L1459.43,265.92 L1461,266.43 L1462.57,266.94 L1464.14,267.46 L1465.71,267.97 L1467.28,268.48 L1468.85,268.99 L1470.42,269.51 L1471.99,270.02 L1473.56,270.53 L1475.13,271.05 L1476.7,271.56 L1478.27,272.07 L1479.84,272.59 L1481.4,273.1 L1482.97,273.61 L1484.54,274.13 L1486.11,274.64 L1487.68,275.16 L1489.25,275.67 L1490.82,276.19 L1492.39,276.7 L1493.96,277.21 L1495.53,277.73 L1497.1,278.24 L1498.67,278.76 L1500.24,279.27 L1501.81,279.79 L1503.38,280.31 L1504.95,280.82 L1506.52,281.34 L1508.09,281.85 L1509.66,282.37 L1511.23,282.88 L1512.8,283.4 L1514.36,283.92 L1515.93,284.43 L1517.5,284.95 L1519.07,285.47 L1520.64,285.98 L1522.21,286.5 L1523.78,287.01 L1525.35,287.53 L1526.92,288.05 L1528.49,288.57 L1530.06,289.08 L1531.63,289.6 L1533.2,290.12 L1534.77,290.63 L1536.34,291.15 L1537.91,291.67 L1539.48,292.19 L1541.05,292.71 L1542.62,293.22 L1544.18,293.74" stroke="#4a7a2c" stroke-width="2.25"/>
<path d="M1194.39,184 H1203.39 M1198.89,178.5 V189.5" stroke="#4a7a2c" stroke-width="1.8"/>
<path d="M869.3,102.2 H885 V103.3 H900.69 V105.8 H916.38 V109 H932.08 V120 H947.77 V126.3 H963.47 V135 H979.16 V137.6 H994.86 V145.8 H1010.55 V154.6 H1026.25 V162.2 H1041.94 V167.1 H1057.64 V173.3 H1073.34 V179.6 H1089.03 V188 H1104.72 V194.7 H1120.42 V202.7 H1136.12 V214.5 H1151.81 V230.1 H1167.5 V239.5 H1183.2 V246.5 H1198.89 V247.5" stroke="#e66f26" stroke-width="2.05"/>
<path d="M869.3,102.2 L870.87,102.28 L872.44,102.41 L874.01,102.58 L875.58,102.77 L877.15,102.98 L878.72,103.2 L880.29,103.45 L881.86,103.71 L883.43,103.98 L885,104.27 L886.56,104.57 L888.13,104.87 L889.7,105.2 L891.27,105.53 L892.84,105.87 L894.41,106.22 L895.98,106.58 L897.55,106.94 L899.12,107.32 L900.69,107.71 L902.26,108.1 L903.83,108.5 L905.4,108.91 L906.97,109.32 L908.54,109.74 L910.11,110.17 L911.68,110.61 L913.25,111.05 L914.82,111.5 L916.38,111.96 L917.95,112.42 L919.52,112.89 L921.09,113.36 L922.66,113.84 L924.23,114.32 L925.8,114.81 L927.37,115.31 L928.94,115.81 L930.51,116.32 L932.08,116.83 L933.65,117.35 L935.22,117.87 L936.79,118.4 L938.36,118.93 L939.93,119.47 L941.5,120.01 L943.07,120.56 L944.64,121.11 L946.21,121.67 L947.77,122.23 L949.34,122.79 L950.91,123.36 L952.48,123.93 L954.05,124.51 L955.62,125.09 L957.19,125.68 L958.76,126.27 L960.33,126.87 L961.9,127.46 L963.47,128.07 L965.04,128.67 L966.61,129.28 L968.18,129.9 L969.75,130.52 L971.32,131.14 L972.89,131.76 L974.46,132.39 L976.03,133.02 L977.6,133.66 L979.16,134.3 L980.73,134.94 L982.3,135.59 L983.87,136.24 L985.44,136.89 L987.01,137.55 L988.58,138.21 L990.15,138.88 L991.72,139.54 L993.29,140.21 L994.86,140.89 L996.43,141.56 L998,142.24 L999.57,142.93 L1001.14,143.61 L1002.71,144.3 L1004.28,144.99 L1005.85,145.69 L1007.42,146.39 L1008.99,147.09 L1010.55,147.79 L1012.12,148.5 L1013.69,149.21 L1015.26,149.92 L1016.83,150.63 L1018.4,151.35 L1019.97,152.07 L1021.54,152.8 L1023.11,153.52 L1024.68,154.25 L1026.25,154.98 L1027.82,155.72 L1029.39,156.45 L1030.96,157.19 L1032.53,157.94 L1034.1,158.68 L1035.67,159.43 L1037.24,160.18 L1038.81,160.93 L1040.38,161.69 L1041.94,162.44 L1043.51,163.2 L1045.08,163.97 L1046.65,164.73 L1048.22,165.5 L1049.79,166.27 L1051.36,167.04 L1052.93,167.81 L1054.5,168.59 L1056.07,169.37 L1057.64,170.15 L1059.21,170.93 L1060.78,171.72 L1062.35,172.5 L1063.92,173.29 L1065.49,174.09 L1067.06,174.88 L1068.63,175.68 L1070.2,176.47 L1071.77,177.28 L1073.34,178.08 L1074.9,178.88 L1076.47,179.69 L1078.04,180.5 L1079.61,181.31 L1081.18,182.12 L1082.75,182.94 L1084.32,183.76 L1085.89,184.57 L1087.46,185.4 L1089.03,186.22 L1090.6,187.04 L1092.17,187.87 L1093.74,188.7 L1095.31,189.53 L1096.88,190.36 L1098.45,191.2 L1100.02,192.03 L1101.59,192.87 L1103.16,193.71 L1104.72,194.55 L1106.29,195.4 L1107.86,196.24 L1109.43,197.09 L1111,197.94 L1112.57,198.79 L1114.14,199.64 L1115.71,200.5 L1117.28,201.35 L1118.85,202.21 L1120.42,203.07 L1121.99,203.93 L1123.56,204.79 L1125.13,205.66 L1126.7,206.52 L1128.27,207.39 L1129.84,208.26 L1131.41,209.13 L1132.98,210 L1134.55,210.88 L1136.12,211.75 L1137.68,212.63 L1139.25,213.51 L1140.82,214.39 L1142.39,215.27 L1143.96,216.15 L1145.53,217.04 L1147.1,217.93 L1148.67,218.81 L1150.24,219.7 L1151.81,220.59 L1153.38,221.49 L1154.95,222.38 L1156.52,223.28 L1158.09,224.17 L1159.66,225.07 L1161.23,225.97 L1162.8,226.87 L1164.37,227.77 L1165.94,228.68 L1167.5,229.58 L1169.07,230.49 L1170.64,231.39 L1172.21,232.3 L1173.78,233.21 L1175.35,234.13 L1176.92,235.04 L1178.49,235.95 L1180.06,236.87 L1181.63,237.78 L1183.2,238.7 L1184.77,239.62 L1186.34,240.54 L1187.91,241.46 L1189.48,242.39 L1191.05,243.31 L1192.62,244.24 L1194.19,245.16 L1195.76,246.09 L1197.33,247.02 L1198.89,247.95 L1200.46,248.88 L1202.03,249.82 L1203.6,250.75 L1205.17,251.68 L1206.74,252.62 L1208.31,253.56 L1209.88,254.5 L1211.45,255.43 L1213.02,256.38 L1214.59,257.32 L1216.16,258.26 L1217.73,259.2 L1219.3,260.15 L1220.87,261.09 L1222.44,262.04 L1224.01,262.99 L1225.58,263.94 L1227.15,264.89 L1228.72,265.84 L1230.28,266.79 L1231.85,267.75 L1233.42,268.7 L1234.99,269.65 L1236.56,270.61 L1238.13,271.57 L1239.7,272.53 L1241.27,273.49 L1242.84,274.45 L1244.41,275.41 L1245.98,276.37 L1247.55,277.33 L1249.12,278.3 L1250.69,279.26 L1252.26,280.23 L1253.83,281.19 L1255.4,282.16 L1256.97,283.13 L1258.54,284.1 L1260.11,285.07 L1261.67,286.04 L1263.24,287.01 L1264.81,287.98 L1266.38,288.96 L1267.95,289.93 L1269.52,290.91 L1271.09,291.88 L1272.66,292.86 L1274.23,293.84 L1275.8,294.82 L1277.37,295.8 L1278.94,296.78 L1280.51,297.76 L1282.08,298.74 L1283.65,299.72 L1285.22,300.7 L1286.79,301.69 L1288.36,302.67 L1289.93,303.66 L1291.5,304.64 L1293.07,305.63 L1294.63,306.62 L1296.2,307.61 L1297.77,308.6 L1299.34,309.59 L1300.91,310.58 L1302.48,311.57 L1304.05,312.56 L1305.62,313.55 L1307.19,314.55 L1308.76,315.54 L1310.33,316.54 L1311.9,317.53 L1313.47,318.53 L1315.04,319.53 L1316.61,320.52 L1318.18,321.52 L1319.75,322.52 L1321.32,323.52 L1322.89,324.52 L1324.45,325.52 L1326.02,326.52 L1327.59,327.52 L1329.16,328.53 L1330.73,329.53 L1332.3,330.53 L1333.87,331.54 L1335.44,332.54 L1337.01,333.55 L1338.58,334.55 L1340.15,335.56 L1341.72,336.57 L1343.29,337.57 L1344.86,338.58 L1346.43,339.59 L1348,340.6 L1349.57,341.61 L1351.14,342.62 L1352.71,343.63 L1354.28,344.64 L1355.85,345.65 L1357.41,346.67 L1358.98,347.68 L1360.55,348.69 L1362.12,349.71 L1363.69,350.72 L1365.26,351.74 L1366.83,352.75 L1368.4,353.77 L1369.97,354.78 L1371.54,355.8 L1373.11,356.82 L1374.68,357.83 L1376.25,358.85 L1377.82,359.87 L1379.39,360.89 L1380.96,361.91 L1382.53,362.93 L1384.1,363.95 L1385.67,364.97 L1387.24,365.99 L1388.8,367.01 L1390.37,368.03 L1391.94,369.06 L1393.51,370.08 L1395.08,371.1 L1396.65,372.12 L1398.22,373.15 L1399.79,374.17 L1401.36,375.2 L1402.93,376.22 L1404.5,377.25 L1406.07,378.27 L1407.64,379.3 L1409.21,380.32 L1410.78,381.35 L1412.35,382.38 L1413.92,383.4 L1415.49,384.43 L1417.06,385.46 L1418.62,386.49 L1420.19,387.52 L1421.76,388.55 L1423.33,389.57 L1424.9,390.6 L1426.47,391.63 L1428.04,392.66 L1429.61,393.69 L1431.18,394.72 L1432.75,395.76 L1434.32,396.79 L1435.89,397.82 L1437.46,398.85 L1439.03,399.88 L1440.6,400.91 L1442.17,401.95 L1443.74,402.98 L1445.31,404.01 L1446.88,405.04 L1448.45,406.08 L1450.01,407.11 L1451.58,408.15 L1453.15,409.18 L1454.72,410.21 L1456.29,411.25 L1457.86,412.28 L1459.43,413.32 L1461,414.35 L1462.57,415.39 L1464.14,416.42 L1465.71,417.46 L1467.28,418.49 L1468.85,419.53 L1470.42,420.57 L1471.99,421.6 L1473.56,422.64 L1475.13,423.68 L1476.7,424.71 L1478.27,425.75 L1479.84,426.79 L1481.4,427.82 L1482.97,428.86 L1484.54,429.9 L1486.11,430.94 L1487.68,431.98 L1489.25,433.01 L1490.82,434.05 L1492.39,435.09 L1493.96,436.13 L1495.53,437.17 L1497.1,438.21 L1498.67,439.24 L1500.24,440.28 L1501.81,441.32 L1503.38,442.36 L1504.95,443.4 L1506.52,444.44 L1508.09,445.48 L1509.66,446.52 L1511.23,447.56 L1512.8,448.6 L1514.36,449.64 L1515.93,450.68 L1517.5,451.72 L1519.07,452.76 L1520.64,453.8 L1522.21,454.84 L1523.78,455.88 L1525.35,456.92 L1526.92,457.96 L1528.49,459 L1530.06,460.04 L1531.63,461.08 L1533.2,462.12 L1534.77,463.16 L1536.34,464.2 L1537.91,465.24 L1539.48,466.28 L1541.05,467.32 L1542.62,468.36 L1544.18,469.4" stroke="#e66f26" stroke-width="2.25"/>
<path d="M1194.39,247.5 H1203.39 M1198.89,242 V253" stroke="#e66f26" stroke-width="1.8"/>
</g>
<rect x="837.8" y="73.4" width="690.4" height="637.6" fill="none" stroke="#bdbdbd" stroke-width="1.6"/>
<g stroke="#333333" stroke-width="1.5">
<line x1="869.3" y1="711.0" x2="869.3" y2="715.5"/>
<line x1="1026.25" y1="711.0" x2="1026.25" y2="715.5"/>
<line x1="1183.2" y1="711.0" x2="1183.2" y2="715.5"/>
<line x1="1340.15" y1="711.0" x2="1340.15" y2="715.5"/>
<line x1="1497.1" y1="711.0" x2="1497.1" y2="715.5"/>
<line x1="833.1" y1="682" x2="837.8" y2="682"/>
<line x1="833.1" y1="537.05" x2="837.8" y2="537.05"/>
<line x1="833.1" y1="392.1" x2="837.8" y2="392.1"/>
<line x1="833.1" y1="247.15" x2="837.8" y2="247.15"/>
<line x1="833.1" y1="102.2" x2="837.8" y2="102.2"/>
</g>
<g fill="#4d4d4d" stroke="#4d4d4d" stroke-width="0.25" font-size="18.6" font-family="Liberation Sans, Arial, sans-serif">
<text transform="translate(869.3,734.75) scale(1,1.065)" text-anchor="middle">2000</text>
<text transform="translate(1026.25,734.75) scale(1,1.065)" text-anchor="middle">2010</text>
<text transform="translate(1183.2,734.75) scale(1,1.065)" text-anchor="middle">2020</text>
<text transform="translate(1340.15,734.75) scale(1,1.065)" text-anchor="middle">2030</text>
<text transform="translate(1497.1,734.75) scale(1,1.065)" text-anchor="middle">2040</text>
<text transform="translate(829.3,690.15) scale(1,1.065)" text-anchor="end">0.6</text>
<text transform="translate(829.3,545.2) scale(1,1.065)" text-anchor="end">0.7</text>
<text transform="translate(829.3,400.25) scale(1,1.065)" text-anchor="end">0.8</text>
<text transform="translate(829.3,255.3) scale(1,1.065)" text-anchor="end">0.9</text>
<text transform="translate(829.3,110.35) scale(1,1.065)" text-anchor="end">1.0</text>
</g>
<text x="1182.8" y="758.6" text-anchor="middle" font-size="22" letter-spacing="0.35" font-weight="bold" fill="#000">Years</text>
<text transform="translate(797,391.9) rotate(-90)" text-anchor="middle" font-size="21.75" font-weight="bold" fill="#000">Survival probability</text>
<text x="777.8" y="23.9" font-size="27" font-weight="bold" fill="#000">B</text>
<path d="M1039.9,34.6 H1060.5 M1050.2,30 V41.2" stroke="#4a7a2c" stroke-width="2" fill="none"/>
<path d="M1045.4,35.3 H1055" stroke="#4a7a2c" stroke-width="1.8" fill="none"/>
<text x="1075.2" y="43.4" font-size="21.5" letter-spacing="0.4" fill="#000" stroke="#000" stroke-width="0.3">Protected</text>
<path d="M1183.7,34.6 H1204.3 M1194,30 V41.2" stroke="#e66f26" stroke-width="2" fill="none"/>
<path d="M1189.2,35.3 H1198.8" stroke="#e66f26" stroke-width="1.8" fill="none"/>
<text x="1217.7" y="43.4" font-size="21.5" letter-spacing="0.3" fill="#000" stroke="#000" stroke-width="0.3">Unprotected</text>
</svg>
</body></html>
